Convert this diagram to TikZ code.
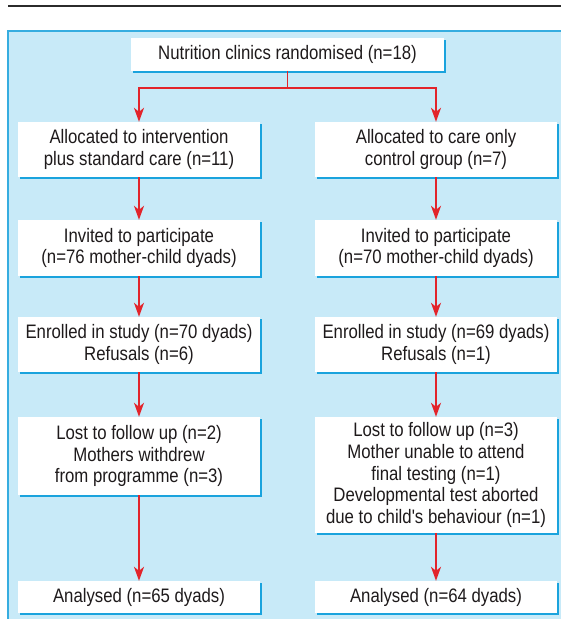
\documentclass[tikz,border=0pt]{standalone}
\usepackage{fontspec}
\newfontfamily\condfont{Liberation Sans}[FakeStretch=0.86]
\usetikzlibrary{arrows.meta,shadows}
\definecolor{panelfill}{HTML}{C8EAF8}
\definecolor{panelline}{HTML}{36ADE0}
\definecolor{shadowblue}{HTML}{1AA3DD}
\definecolor{arrowred}{HTML}{E2242B}
\definecolor{textdark}{HTML}{1E1A1B}
\definecolor{rulegray}{HTML}{2B2B2B}
\begin{document}
\begin{tikzpicture}[x=1pt,y=-1pt,
  box/.style={fill=white, text=textdark, align=center, minimum width=242pt,
    inner sep=0pt, font=\condfont\fontsize{19.5}{21.7}\selectfont,
    drop shadow={shadow xshift=2pt, shadow yshift=-2pt, fill=shadowblue, opacity=1}},
  arr/.style={draw=arrowred, line width=1.6pt, -{Stealth[length=14pt,width=10pt,inset=4pt]}}]
\useasboundingbox (0,0) rectangle (561,619);
\clip (0,0) rectangle (561,619);
% top rule
\draw[rulegray, line width=1.6pt] (8,6) -- (566,6);
% panel
\fill[panelfill] (8,31) rectangle (566,625);
\draw[panelline, line width=1.2pt] (8,625) -- (8,31) -- (566,31);
% boxes
\node[box, minimum width=313pt, minimum height=33pt] (top) at (287.5,54) {Nutrition clinics randomised (n=18)};
\node[box, minimum height=55pt] (L2) at (139,149.5) {Allocated to intervention\\plus standard care (n=11)};
\node[box, minimum height=55pt] (R2) at (436,149.5) {Allocated to care only\\control group (n=7)};
\node[box, minimum height=56pt] (L3) at (139,248) {Invited to participate\\(n=76 mother-child dyads)};
\node[box, minimum height=56pt] (R3) at (436,248) {Invited to participate\\(n=70 mother-child dyads)};
\node[box, minimum height=55pt] (L4) at (139,344.5) {Enrolled in study (n=70 dyads)\\Refusals (n=6)};
\node[box, minimum height=55pt] (R4) at (436,344.5) {Enrolled in study (n=69 dyads)\\Refusals (n=1)};
\node[box, minimum height=78pt] (L5) at (139,456) {Lost to follow up (n=2)\\Mothers withdrew\\from programme (n=3)};
\node[box, minimum height=116pt] (R5) at (436,475) {Lost to follow up (n=3)\\Mother unable to attend\\final testing (n=1)\\Developmental test aborted\\due to child's behaviour (n=1)};
\node[box, minimum height=32pt] (L6) at (139,597) {Analysed (n=65 dyads)};
\node[box, minimum height=32pt] (R6) at (436,597) {Analysed (n=64 dyads)};
% connectors
\coordinate (fork) at (287.5,88);
\draw[arrowred, line width=1.6pt] (top.south) -- (fork);
\draw[arr] (fork) -| (L2.north);
\draw[arr] (fork) -| (R2.north);
\draw[arr] (L2) -- (L3);
\draw[arr] (R2) -- (R3);
\draw[arr] (L3) -- (L4);
\draw[arr] (R3) -- (R4);
\draw[arr] (L4) -- (L5);
\draw[arr] (R4) -- (R5);
\draw[arr] (L5) -- (L6);
\draw[arr] (R5) -- (R6);
\end{tikzpicture}
\end{document}
